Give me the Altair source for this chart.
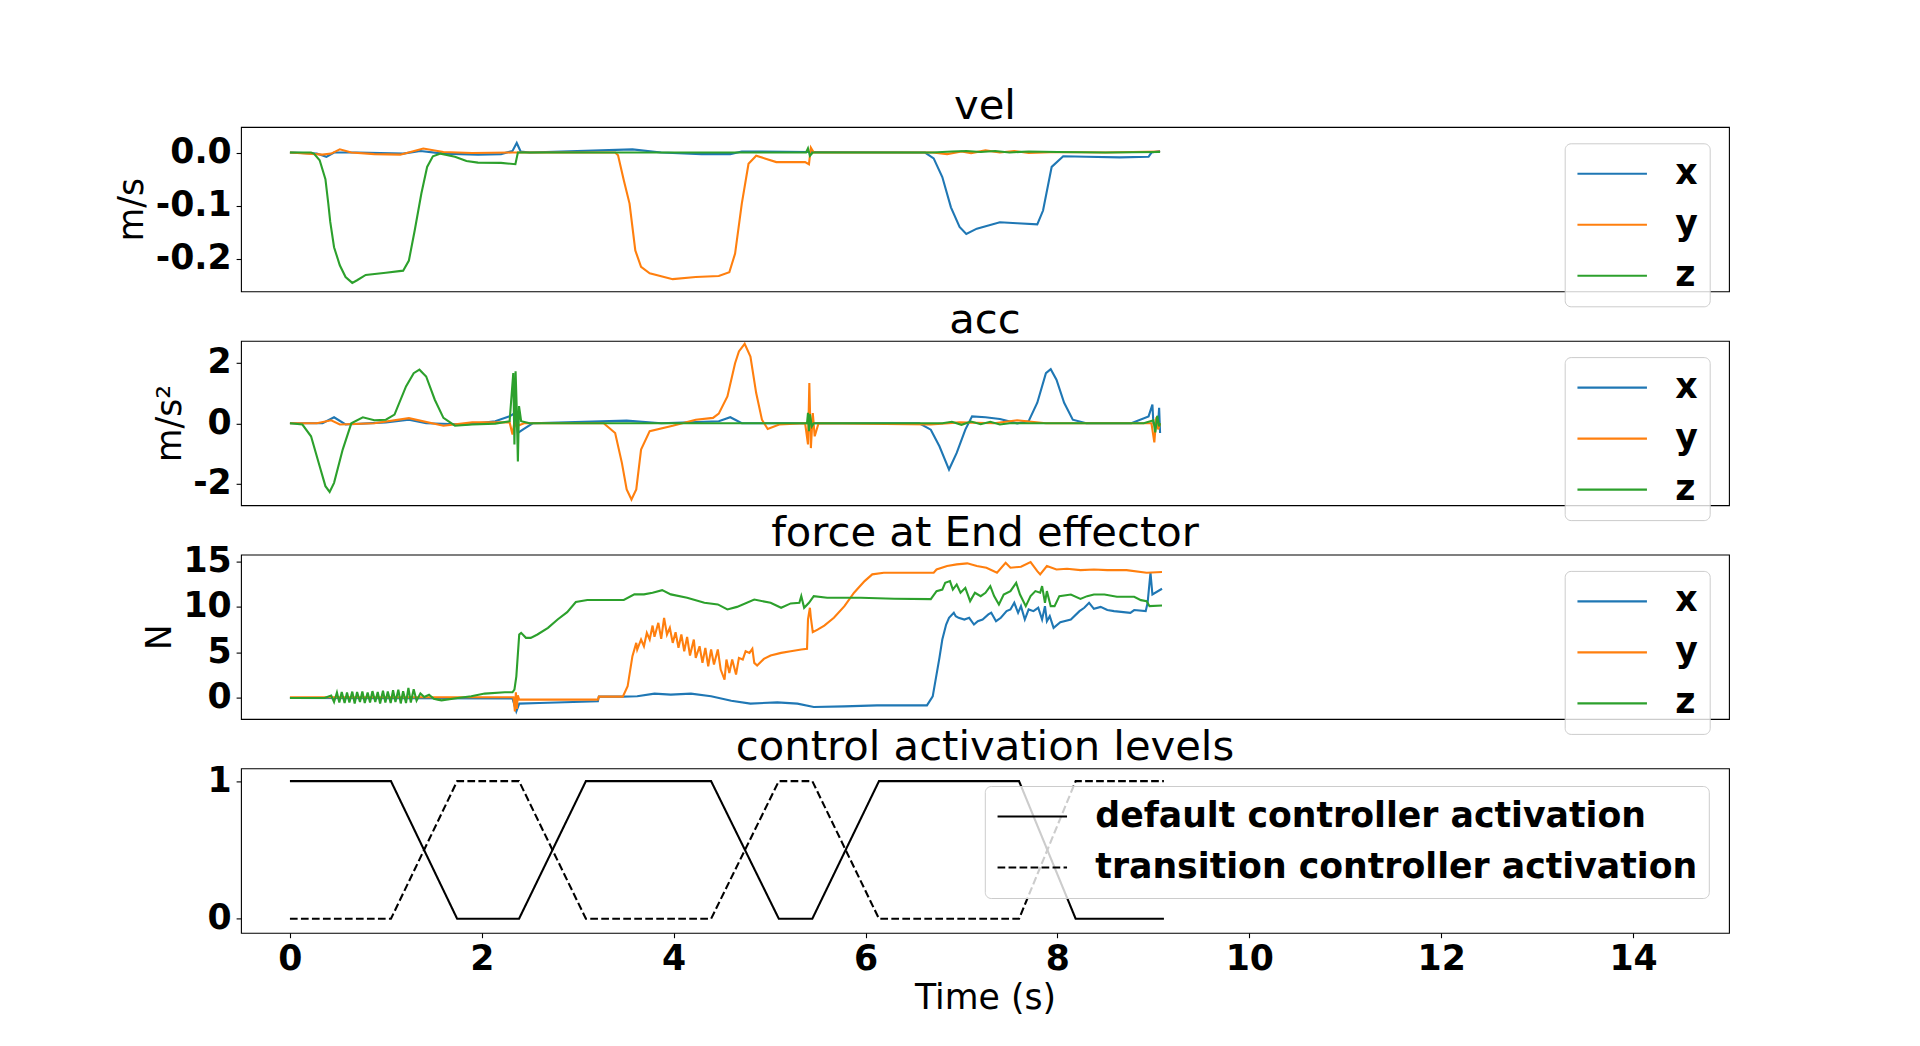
import altair as alt
import pandas as pd

# ---------------- data ----------------
SERIES = ["x", "y", "z"]
COLORS = ["#1f77b4", "#ff7f0e", "#2ca02c"]
TITLES = ["vel", "acc", "force at End effector", "control activation levels"]

# velocity (m/s)
VEL_X_T = [0, 0.28, 0.38, 0.46, 0.70, 1.18, 1.36, 1.60, 1.96, 2.20, 2.32, 2.364, 2.405, 2.50, 3.57,
           3.87, 4.29, 4.59, 4.71, 5.40, 6.62, 6.71, 6.80, 6.89, 6.98, 7.05, 7.16, 7.40, 7.58, 7.79,
           7.85, 7.94, 8.06, 8.30, 8.65, 8.95, 8.98, 9.07]
VEL_X_V = [0, -0.002, -0.008, 0.0, 0.0, -0.002, 0.003, -0.002, -0.004, -0.003, 0.003, 0.018, 0.002, 0.0, 0.006,
           0.0, -0.003, -0.003, 0.002, 0.001, 0.0, -0.011, -0.046, -0.103, -0.14, -0.153, -0.143, -0.131, -0.133, -0.135,
           -0.109, -0.027, -0.007, -0.008, -0.009, -0.008, 0.0, 0.003]
VEL_Y_T = [0, 0.34, 0.43, 0.52, 0.64, 0.88, 1.15, 1.39, 1.60, 1.90, 2.32, 3.39, 3.42, 3.48, 3.54,
           3.60, 3.66, 3.75, 3.99, 4.23, 4.47, 4.58, 4.64, 4.71, 4.78, 4.86, 4.95, 5.07, 5.37, 5.41,
           5.43, 5.46, 6.70, 6.85, 7.00, 7.10, 7.25, 7.40, 7.55, 7.70, 8.00, 8.50, 9.07]
VEL_Y_V = [0, -0.004, -0.002, 0.006, 0.0, -0.003, -0.004, 0.0075, 0.001, -0.001, 0.0, 0.0, -0.005, -0.052, -0.096,
           -0.184, -0.215, -0.227, -0.238, -0.234, -0.232, -0.225, -0.19, -0.096, -0.021, -0.006, -0.011, -0.018, -0.018, -0.022,
           0.009, 0.0, 0.0, -0.003, 0.002, -0.001, 0.004, 0.0, 0.003, -0.001, 0.001, 0.0, 0.002]
VEL_Z_T = [0, 0.22, 0.25, 0.31, 0.37, 0.40, 0.42, 0.46, 0.52, 0.58, 0.65, 0.70, 0.79, 1.00, 1.18,
           1.24, 1.30, 1.37, 1.43, 1.49, 1.57, 1.72, 1.84, 1.96, 2.20, 2.35, 2.376, 2.80, 4.00, 5.38,
           5.40, 5.42, 5.45, 6.70, 6.90, 7.05, 7.20, 7.35, 7.50, 7.70, 8.00, 8.50, 9.07]
VEL_Z_V = [0, 0.0, -0.002, -0.0145, -0.05, -0.096, -0.13, -0.178, -0.212, -0.234, -0.245, -0.240, -0.23, -0.226, -0.222,
           -0.203, -0.147, -0.077, -0.027, -0.007, -0.002, -0.008, -0.016, -0.019, -0.0195, -0.022, 0.0, 0.0, 0.0, 0.0,
           0.008, -0.006, 0.0, 0.0, 0.002, 0.003, 0.001, 0.003, 0.0, 0.002, 0.001, 0.0, 0.001]

# acceleration (m/s^2)
ACC_X_T = [0, 0.34, 0.46, 0.58, 1.00, 1.24, 1.42, 1.84, 2.14, 2.29, 2.345, 2.376, 2.435, 2.53, 3.51,
           3.87, 4.47, 4.59, 4.71, 5.19, 6.56, 6.68, 6.77, 6.87, 6.95, 7.04, 7.11, 7.25, 7.40, 7.58,
           7.70, 7.79, 7.88, 7.93, 7.99, 8.07, 8.16, 8.30, 8.77, 8.95, 8.99, 9.00, 9.05, 9.06, 9.07]
ACC_X_V = [0, 0.0, 0.2, -0.04, 0.03, 0.12, 0.0, -0.04, 0.07, 0.23, 0.34, -0.32, -0.19, 0.0, 0.09,
           0.0, 0.07, 0.2, 0.0, 0.0, 0.0, -0.21, -0.76, -1.53, -0.98, -0.21, 0.23, 0.2, 0.14, 0.0,
           0.07, 0.68, 1.66, 1.79, 1.44, 0.68, 0.12, 0.0, 0.0, 0.23, 0.62, 0.0, 0.0, 0.51, -0.32]
ACC_Y_T = [0, 0.28, 0.43, 0.52, 0.88, 1.24, 1.60, 1.90, 2.29, 2.32, 2.34, 2.36, 2.44, 3.27, 3.39,
           3.46, 3.51, 3.56, 3.61, 3.66, 3.75, 3.99, 4.23, 4.41, 4.47, 4.56, 4.64, 4.68, 4.74, 4.80,
           4.86, 4.92, 4.98, 5.10, 5.37, 5.40, 5.414, 5.43, 5.45, 5.47, 5.51, 6.68, 6.98, 7.34, 7.58,
           7.88, 8.98, 9.01, 9.03, 9.05, 9.07]
ACC_Y_V = [0, 0.0, 0.1, -0.04, 0.0, 0.17, -0.08, 0.03, 0.03, -0.37, 0.05, -0.1, 0.0, 0.0, -0.32,
           -1.31, -2.19, -2.52, -2.19, -0.87, -0.26, -0.08, 0.12, 0.18, 0.32, 0.89, 1.99, 2.38, 2.63, 2.21,
           1.0, 0.12, -0.19, -0.04, 0.0, -0.70, 1.33, -0.82, 0.34, -0.43, 0.0, -0.04, 0.03, 0.0, 0.1,
           0.0, 0.0, -0.63, 0.2, -0.2, 0.0]
ACC_Z_T = [0, 0.13, 0.22, 0.31, 0.37, 0.414, 0.46, 0.55, 0.64, 0.76, 0.88, 1.00, 1.09, 1.21, 1.29,
           1.35, 1.42, 1.51, 1.60, 1.72, 1.90, 2.14, 2.29, 2.328, 2.34, 2.352, 2.364, 2.376, 2.388, 2.41,
           2.50, 5.39, 5.40, 5.41, 5.42, 5.44, 5.46, 6.80, 6.90, 7.00, 7.10, 7.20, 7.30, 7.40, 7.50,
           8.90, 9.00, 9.02, 9.04, 9.06, 9.07]
ACC_Z_V = [0, -0.04, -0.43, -1.42, -2.08, -2.27, -1.97, -0.87, 0.0, 0.2, 0.1, 0.12, 0.29, 1.22, 1.66,
           1.775, 1.55, 0.78, 0.18, -0.08, -0.04, -0.01, 0.07, 1.66, -0.7, 1.72, 0.51, -1.26, 0.57, 0.07,
           0.0, 0.0, 0.35, -0.26, 0.3, -0.1, 0.0, 0.0, 0.05, -0.05, 0.06, -0.03, 0.05, -0.04, 0.0,
           0.0, 0.1, -0.3, 0.25, -0.1, 0.0]

# force at end effector (N)
FORCE_X_T = [0, 2.32, 2.36, 2.39, 2.60, 3.21, 3.22, 3.47, 3.62, 3.80,
             3.97, 4.18, 4.39, 4.60, 4.80, 5.08, 5.29, 5.46, 5.78, 6.12,
             6.64, 6.70, 6.77, 6.80, 6.84, 6.87, 6.92, 6.94, 6.97, 7.03,
             7.08, 7.13, 7.17, 7.22, 7.28, 7.31, 7.36, 7.41, 7.47, 7.51,
             7.55, 7.59, 7.62, 7.66, 7.70, 7.75, 7.80, 7.84, 7.87, 7.89,
             7.92, 7.96, 8.03, 8.14, 8.23, 8.28, 8.33, 8.38, 8.45, 8.52,
             8.59, 8.76, 8.80, 8.92, 8.94, 8.97, 8.99, 9.09]
FORCE_X_V = [0.0, -0.05, -1.47, -0.62, -0.55, -0.37, 0.15, 0.15, 0.18, 0.48,
             0.37, 0.48, 0.18, -0.3, -0.62, -0.48, -0.62, -0.99, -0.92, -0.81,
             -0.81, 0.18, 4.4, 6.41, 8.06, 8.8, 9.35, 8.98, 8.8, 8.61,
             8.8, 8.06, 8.43, 8.61, 9.17, 9.35, 8.43, 8.8, 9.53, 9.72,
             10.45, 9.35, 10.08, 8.61, 9.72, 9.53, 9.9, 8.61, 10.08, 8.43,
             8.98, 7.7, 8.32, 8.61, 9.53, 9.9, 10.45, 9.79, 10.0, 9.65,
             9.53, 9.35, 9.65, 9.53, 10.45, 13.75, 11.36, 11.99]
FORCE_Y_T = [0, 2.33, 2.345, 2.355, 2.365, 2.375, 2.39, 3.21, 3.22, 3.47,
             3.52, 3.57, 3.61, 3.62, 3.66, 3.69, 3.72, 3.75, 3.78, 3.80,
             3.84, 3.87, 3.90, 3.93, 3.96, 3.99, 4.02, 4.05, 4.08, 4.11,
             4.14, 4.17, 4.21, 4.23, 4.27, 4.30, 4.33, 4.36, 4.39, 4.42,
             4.46, 4.49, 4.53, 4.55, 4.58, 4.61, 4.65, 4.68, 4.72, 4.75,
             4.79, 4.82, 4.84, 4.87, 4.94, 5.01, 5.12, 5.22, 5.33, 5.39,
             5.40, 5.42, 5.43, 5.45, 5.50, 5.57, 5.67, 5.78, 5.88, 5.99,
             6.07, 6.19, 6.47, 6.71, 6.74, 6.85, 6.95, 7.06, 7.16, 7.26,
             7.37, 7.46, 7.51, 7.62, 7.72, 7.79, 7.82, 7.89, 7.99, 8.10,
             8.24, 8.38, 8.52, 8.72, 8.93, 9.09]
FORCE_Y_V = [0.07, 0.07, -1.47, 0.62, -1.2, 0.3, -0.18, -0.18, 0.15, 0.15,
             1.28, 4.59, 6.05, 5.32, 6.42, 5.68, 7.15, 6.42, 7.95, 6.71,
             8.25, 6.49, 8.8, 6.97, 7.7, 6.05, 7.22, 5.5, 6.97, 5.13,
             6.71, 4.65, 6.42, 4.4, 5.68, 3.85, 5.5, 3.48, 5.32, 3.67,
             5.32, 3.12, 2.0, 4.22, 2.75, 4.22, 2.57, 4.4, 4.22, 5.13,
             4.95, 5.39, 3.85, 3.56, 4.29, 4.66, 4.95, 5.13, 5.32, 5.39,
             8.62, 9.9, 8.8, 7.22, 7.51, 7.95, 8.8, 10.08, 11.55, 12.83,
             13.57, 13.75, 13.75, 13.75, 14.11, 14.48, 14.67, 14.78, 14.48, 14.3,
             13.75, 14.85, 14.3, 14.41, 14.92, 13.93, 13.57, 14.48, 14.11, 14.19,
             14.04, 14.11, 14.04, 14.04, 13.75, 13.83]
FORCE_Z_T = [0, 0.36, 0.43, 0.46, 0.49, 0.515, 0.54, 0.57, 0.595, 0.62,
             0.65, 0.675, 0.70, 0.73, 0.755, 0.78, 0.81, 0.835, 0.86, 0.89,
             0.915, 0.94, 0.97, 0.995, 1.02, 1.05, 1.075, 1.10, 1.13, 1.155,
             1.18, 1.21, 1.235, 1.26, 1.29, 1.32, 1.36, 1.40, 1.45, 1.50,
             1.54, 1.58, 1.75, 1.89, 2.03, 2.24, 2.32, 2.34, 2.36, 2.39,
             2.41, 2.46, 2.51, 2.58, 2.69, 2.79, 2.89, 2.98, 3.10, 3.28,
             3.48, 3.59, 3.69, 3.78, 3.88, 3.97, 4.14, 4.32, 4.46, 4.56,
             4.66, 4.84, 5.01, 5.12, 5.22, 5.31, 5.33, 5.36, 5.41, 5.46,
             5.60, 5.95, 6.30, 6.68, 6.74, 6.80, 6.83, 6.88, 6.91, 6.95,
             6.99, 7.04, 7.09, 7.14, 7.20, 7.25, 7.30, 7.34, 7.39, 7.44,
             7.51, 7.57, 7.61, 7.67, 7.72, 7.77, 7.82, 7.84, 7.87, 7.89,
             7.93, 7.97, 8.02, 8.14, 8.24, 8.31, 8.38, 8.49, 8.62, 8.80,
             8.87, 8.93, 8.96, 9.09]
FORCE_Z_V = [0, 0.0, 0.26, -0.45, 0.6, -0.5, 0.65, -0.55, 0.6, -0.5,
             0.7, -0.6, 0.65, -0.45, 0.7, -0.55, 0.6, -0.5, 0.75, -0.45,
             0.65, -0.6, 0.8, -0.5, 0.7, -0.55, 0.85, -0.45, 0.9, -0.6,
             0.75, -0.55, 1.1, -0.5, 0.95, -0.3, 0.5, 0.1, 0.35, -0.1,
             -0.18, -0.26, 0.0, 0.18, 0.48, 0.62, 0.62, 0.92, 2.38, 6.97,
             7.15, 6.6, 6.6, 6.97, 7.7, 8.62, 9.42, 10.53, 10.75, 10.75,
             10.75, 11.37, 11.37, 11.55, 11.84, 11.37, 11.0, 10.45, 10.27, 9.72,
             10.0, 10.81, 10.45, 9.9, 10.38, 10.45, 11.18, 9.9, 10.45, 11.18,
             11.0, 11.0, 10.89, 10.85, 11.73, 11.9, 12.64, 12.83, 11.9, 12.46,
             11.55, 12.09, 10.63, 11.55, 11.18, 11.55, 12.28, 11.18, 10.27, 11.36,
             11.73, 12.64, 11.36, 10.08, 11.18, 11.73, 11.55, 12.28, 10.45, 11.73,
             10.08, 10.08, 11.18, 11.36, 10.88, 11.18, 11.36, 11.36, 11.11, 11.11,
             10.74, 10.63, 10.08, 10.15]

# control activation levels
CTRL_T = [0, 1.053, 1.743, 2.388, 3.085, 4.39, 5.096, 5.445, 6.14, 7.60, 8.19, 9.11]
CTRL_DEFAULT = [1, 1, 0, 0, 1, 1, 0, 0, 1, 1, 0, 0]
CTRL_TRANSITION = [0, 0, 1, 1, 0, 0, 1, 1, 0, 0, 1, 1]
CTRL_NAMES = ["default controller activation", "transition controller activation"]

X_TICKS = [0, 2, 4, 6, 8, 10, 12, 14]
VEL_TICKS = [-0.2, -0.1, 0.0]
ACC_TICKS = [-2, 0, 2]
FORCE_TICKS = [0, 5, 10, 15]
CTRL_TICKS = [0, 1]


def frame(parts):
    rows = []
    for ts, vs, name in parts:
        for t, v in zip(ts, vs):
            rows.append({"t": t, "v": v, "s": name})
    return pd.DataFrame(rows)


vel_df = frame([(VEL_X_T, VEL_X_V, "x"), (VEL_Y_T, VEL_Y_V, "y"), (VEL_Z_T, VEL_Z_V, "z")])
acc_df = frame([(ACC_X_T, ACC_X_V, "x"), (ACC_Y_T, ACC_Y_V, "y"), (ACC_Z_T, ACC_Z_V, "z")])
force_df = frame([(FORCE_X_T, FORCE_X_V, "x"), (FORCE_Y_T, FORCE_Y_V, "y"), (FORCE_Z_T, FORCE_Z_V, "z")])
ctrl_df = frame([(CTRL_T, CTRL_DEFAULT, CTRL_NAMES[0]), (CTRL_T, CTRL_TRANSITION, CTRL_NAMES[1])])

# ---------------- styling ----------------
FONT = "DejaVu Sans"
FS = 34.7        # base text size
FS_TITLE = 41.7  # panel titles
W = 1488
H = 164.4
LW = 2.1
X_SCALE = alt.Scale(domain=[-0.51, 15.0], nice=False, zero=False)


def title_layer(text):
    return alt.Chart(pd.DataFrame({"label": [text]})).mark_text(
        font=FONT, fontSize=FS_TITLE, fontWeight="normal", color="black",
        align="center", baseline="alphabetic"
    ).encode(x=alt.value(W / 2), y=alt.value(-8.3), text="label:N")


def y_axis(values, ytitle, fmt):
    kw = dict(values=values, labelExpr="replace(format(datum.value, '%s'), '\u2212', '-')" % fmt,
              labelFont=FONT, labelFontWeight="bold", labelFontSize=FS, labelColor="black",
              labelPadding=4.9, labelFlush=False, labelOverlap=False, tickSize=4.9, tickWidth=1.1,
              tickColor="black", domain=False, grid=False)
    if ytitle:
        kw.update(title=ytitle, titleFont=FONT, titleFontSize=FS, titleFontWeight="normal",
                  titleColor="black", titlePadding=5.6)
    else:
        kw.update(title=None)
    return alt.Axis(**kw)


def legend(lx, ly, dash=False):
    kw = dict(title=None, orient="none", legendX=lx, legendY=ly, direction="vertical",
              symbolType="stroke", symbolSize=4830, symbolStrokeWidth=LW,
              labelFont=FONT, labelFontWeight="bold", labelFontSize=FS, labelColor="black",
              labelOffset=27, labelLimit=2000, fillColor="rgba(255,255,255,0.8)",
              strokeColor="#cccccc", cornerRadius=6, padding=11.5, rowPadding=13, clipHeight=38)
    if dash:
        kw.update(symbolStrokeColor="black")
    return alt.Legend(**kw)


color_scale = alt.Scale(domain=SERIES, range=COLORS)


def xyz_panel(df, name, ytitle, domain, ticks, fmt):
    lines = alt.Chart(df).mark_line(strokeWidth=LW).encode(
        x=alt.X("t:Q", scale=X_SCALE, axis=None),
        y=alt.Y("v:Q", scale=alt.Scale(domain=domain, nice=False, zero=False),
                axis=y_axis(ticks, ytitle, fmt)),
        color=alt.Color("s:N", scale=color_scale, legend=legend(1323.7, 16.3)),
    )
    return alt.layer(lines, title_layer(name)).properties(width=W, height=H)


vel = xyz_panel(vel_df, TITLES[0], "m/s", [-0.261, 0.048], VEL_TICKS, ".1f")
acc = xyz_panel(acc_df, TITLES[1], "m/s\u00b2", [-2.71, 2.73], ACC_TICKS, "d")
force = xyz_panel(force_df, TITLES[2], "N", [-2.31, 15.74], FORCE_TICKS, "d")

ctrl_lines = alt.Chart(ctrl_df).mark_line(strokeWidth=LW, color="black").encode(
    x=alt.X("t:Q", scale=X_SCALE,
            axis=alt.Axis(values=X_TICKS, format="d", labelFont=FONT, labelFontWeight="bold",
                          labelFontSize=FS, labelColor="black", labelPadding=4.7, labelFlush=False,
                          labelOverlap=False, tickSize=4.9, tickWidth=1.1, tickColor="black",
                          domain=False, grid=False, title="Time (s)", titleFont=FONT,
                          titleFontSize=FS, titleFontWeight="normal", titleColor="black",
                          titlePadding=5.6)),
    y=alt.Y("v:Q", scale=alt.Scale(domain=[-0.102, 1.0925], nice=False, zero=False),
            axis=y_axis(CTRL_TICKS, None, "d")),
    strokeDash=alt.StrokeDash("s:N", scale=alt.Scale(domain=CTRL_NAMES, range=[[1, 0], [7.7, 3.3]]),
                              legend=legend(743.8, 17.6, dash=True)),
)
ctrl = alt.layer(ctrl_lines, title_layer(TITLES[3])).properties(width=W, height=H)

chart = alt.vconcat(vel, acc, force, ctrl, spacing=48.8, bounds="flush",
                    padding={"left": 106, "top": 77, "right": 20, "bottom": 20},
                    background="white").resolve_scale(
    color="independent", strokeDash="independent"
).resolve_legend(color="independent", strokeDash="independent").configure(
    font=FONT
).configure_view(stroke="black", strokeWidth=1.1)

chart.save("out.html", embed_options={"renderer": "svg", "actions": False})
